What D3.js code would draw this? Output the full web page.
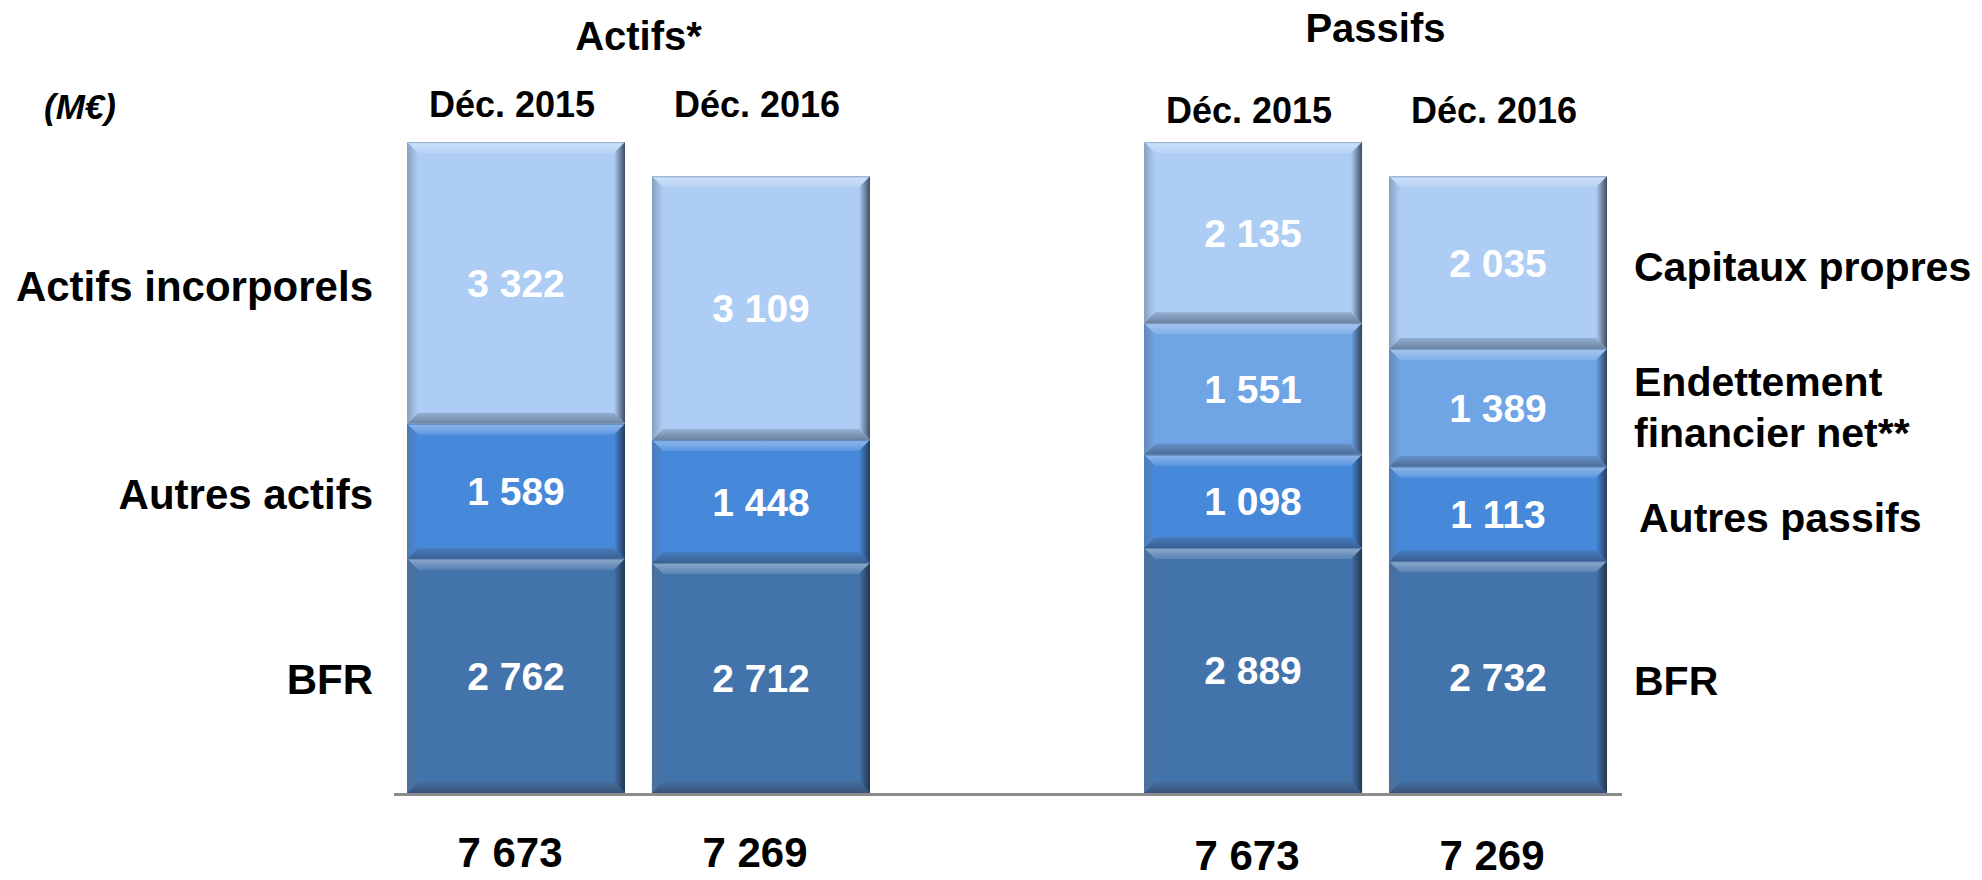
<!DOCTYPE html>
<html>
<head>
<meta charset="utf-8">
<script src="https://cdn.jsdelivr.net/npm/d3@7"></script>
<style>
  body { margin: 0; background: #fff; }
  svg { display: block; font-family: "Liberation Sans", Arial, sans-serif; font-weight: bold; }
</style>
</head>
<body>
<svg id="chart" width="1982" height="880"></svg>
<script>
// data (M€)
var groups = ["Actifs*", "Passifs"];
var periods = ["Déc. 2015", "Déc. 2016"];

var actifsCats = ["BFR", "Autres actifs", "Actifs incorporels"];
var actifs2015 = [2762, 1589, 3322];
var actifs2016 = [2712, 1448, 3109];

var passifsCats = ["BFR", "Autres passifs", "Endettement financier net**", "Capitaux propres"];
var passifs2015 = [2889, 1098, 1551, 2135];
var passifs2016 = [2732, 1113, 1389, 2035];

var totals = [7673, 7269];

var colors = {
  "BFR": "#4373ab",
  "Autres actifs": "#4689db",
  "Autres passifs": "#4689db",
  "Endettement financier net**": "#6fa4e5",
  "Actifs incorporels": "#aecdf5",
  "Capitaux propres": "#aecdf5"
};

var svg = d3.select("#chart");
var defs = svg.append("defs");

var y = d3.scaleLinear().domain([0, 7673]).range([793, 142]);
var xGroup = d3.scaleBand().domain(groups).range([407, 1607]).paddingInner(0.3718);
var xPeriod = d3.scaleBand().domain(periods).range([0, xGroup.bandwidth()]).paddingInner(0.11);

function barX(g, p) { return xGroup(g) + xPeriod(p); }
function barMid(g, p) { return barX(g, p) + xPeriod.bandwidth() / 2; }

var fmt = function(v) { return d3.format(",")(v).replace(",", " "); };

// bevel gradients for each colour
var gradId = {};
Object.values(colors).forEach(function(c) {
  if (gradId[c]) return;
  var key = c.slice(1);
  gradId[c] = key;
  var base = d3.color(c);
  var light = d3.interpolateRgb(c, "#ffffff")(0.35);
  var grey = d3.interpolateRgb(c, "#5a6a80")(0.45);
  var dark = d3.interpolateRgb(c, "#1a2230")(0.75);

  function grad(id, x2, y2, stops) {
    var lg = defs.append("linearGradient").attr("id", id + key)
      .attr("x1", 0).attr("y1", 0).attr("x2", x2).attr("y2", y2);
    stops.forEach(function(s) {
      lg.append("stop").attr("offset", s[0]).attr("stop-color", s[1]);
    });
  }
  grad("top", 0, 1, [["0%", grey], ["15%", light], ["100%", d3.interpolateRgb(c, "#ffffff")(0.12)]]);
  grad("bot", 0, 1, [["0%", d3.interpolateRgb(c, "#4a5a70")(0.25)], ["100%", d3.interpolateRgb(c, "#2a3548")(0.5)]]);
  grad("lft", 1, 0, [["0%", grey], ["100%", base.formatHex()]]);
  grad("rgt", 1, 0, [["0%", base.formatHex()], ["100%", dark]]);
});

function bevelSeg(g, x, y0, w, h, c) {
  var b = Math.min(11, h / 3), k = gradId[c];
  var x1 = x + w, y1 = y0 + h;
  g.append("rect").attr("x", x).attr("y", y0).attr("width", w).attr("height", h).attr("fill", c);
  g.append("polygon")
    .attr("points", [[x, y0], [x1, y0], [x1 - b, y0 + b], [x + b, y0 + b]].join(" "))
    .attr("fill", "url(#top" + k + ")");
  g.append("polygon")
    .attr("points", [[x, y1], [x1, y1], [x1 - b, y1 - b], [x + b, y1 - b]].join(" "))
    .attr("fill", "url(#bot" + k + ")");
  g.append("polygon")
    .attr("points", [[x, y0], [x + b, y0 + b], [x + b, y1 - b], [x, y1]].join(" "))
    .attr("fill", "url(#lft" + k + ")");
  g.append("polygon")
    .attr("points", [[x1, y0], [x1, y1], [x1 - b, y1 - b], [x1 - b, y0 + b]].join(" "))
    .attr("fill", "url(#rgt" + k + ")");
}

function stackBar(g, p, cats, vals) {
  var cum = 0;
  var gr = svg.append("g");
  cats.forEach(function(cat, i) {
    var y0 = y(cum + vals[i]), y1 = y(cum);
    bevelSeg(gr, barX(g, p), y0, xPeriod.bandwidth(), y1 - y0, colors[cat]);
    gr.append("text")
      .attr("x", barMid(g, p))
      .attr("y", (y0 + y1) / 2)
      .attr("dy", "0.36em")
      .attr("text-anchor", "middle")
      .attr("fill", "#fff")
      .style("font-size", "39px")
      .text(fmt(vals[i]));
    cum += vals[i];
  });
}

stackBar("Actifs*", periods[0], actifsCats, actifs2015);
stackBar("Actifs*", periods[1], actifsCats, actifs2016);
stackBar("Passifs", periods[0], passifsCats, passifs2015);
stackBar("Passifs", periods[1], passifsCats, passifs2016);

// baseline
svg.append("line")
  .attr("x1", 394).attr("x2", 1622)
  .attr("y1", y(0) + 1.5).attr("y2", y(0) + 1.5)
  .attr("stroke", "#8c8c8c").attr("stroke-width", 3);

// group titles
svg.selectAll(".title").data(groups).join("text")
  .attr("x", function(d) { return xGroup(d) + xGroup.bandwidth() / 2; })
  .attr("y", function(d, i) { return i === 0 ? 50 : 42; })
  .attr("text-anchor", "middle")
  .style("font-size", "40px")
  .text(function(d) { return d; });

// period headers and totals
groups.forEach(function(g, gi) {
  periods.forEach(function(p, pi) {
    svg.append("text")
      .attr("x", barMid(g, p) - 4)
      .attr("y", gi === 0 ? 117 : 123)
      .attr("text-anchor", "middle")
      .style("font-size", "36px")
      .text(p);
    svg.append("text")
      .attr("x", barMid(g, p) - 6)
      .attr("y", gi === 0 ? 867 : 870)
      .attr("text-anchor", "middle")
      .style("font-size", "42px")
      .text(fmt(totals[pi]));
  });
});

svg.append("text")
  .attr("x", 44).attr("y", 119)
  .style("font-size", "35px")
  .style("font-style", "italic")
  .text("(M€)");

// left category labels, centred on first actifs bar
var cum = 0;
actifsCats.forEach(function(cat, i) {
  var mid = (y(cum) + y(cum + actifs2015[i])) / 2;
  svg.append("text")
    .attr("x", 373).attr("y", mid + 18)
    .attr("text-anchor", "end")
    .style("font-size", "42px")
    .text(cat);
  cum += actifs2015[i];
});

// right category labels, centred on last passifs bar
cum = 0;
passifsCats.forEach(function(cat, i) {
  var mid = (y(cum) + y(cum + passifs2016[i])) / 2;
  var t = svg.append("text")
    .attr("x", cat === "Autres passifs" ? 1639 : 1634)
    .style("font-size", "41px");
  if (cat === "Endettement financier net**") {
    t.append("tspan").attr("x", 1634).attr("y", mid - 12).text("Endettement");
    t.append("tspan").attr("x", 1634).attr("y", mid + 39).text("financier net**");
  } else {
    t.attr("y", mid + 18).text(cat);
  }
  cum += passifs2016[i];
});
</script>
</body>
</html>
